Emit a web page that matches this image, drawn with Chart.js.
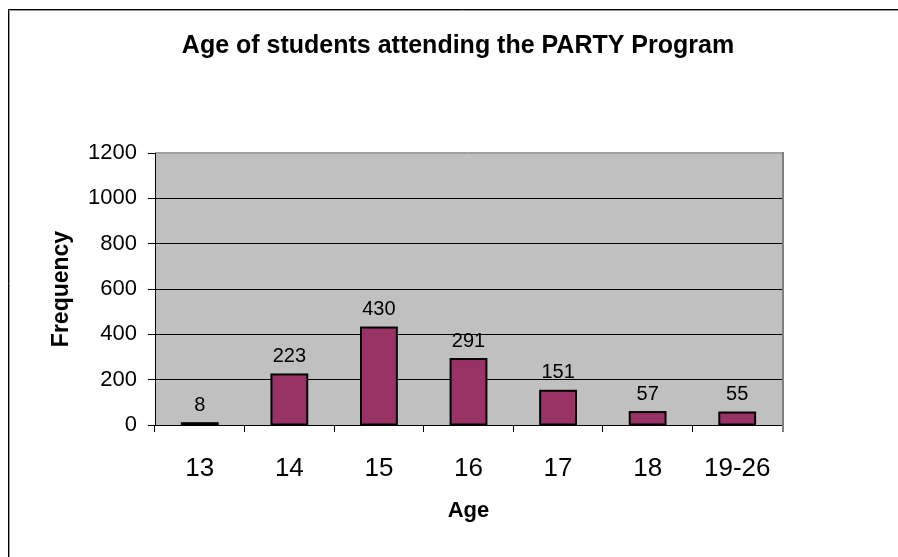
<!DOCTYPE html>
<html>
<head>
<meta charset="utf-8">
<script src="https://cdn.jsdelivr.net/npm/chart.js@4/dist/chart.umd.min.js"></script>
<style>
  html, body { margin: 0; padding: 0; background: #fff; overflow: hidden; }
  #wrap { position: absolute; left: 0; top: 0; width: 898px; height: 557px; overflow: hidden; }
  #c { position: absolute; left: 0; top: 0; }
</style>
</head>
<body>
<div id="wrap"><canvas id="c" width="916" height="557"></canvas></div>
<script>
const titleText = 'Age of students attending the PARTY Program';
const xTitle = 'Age';
const yTitle = 'Frequency';
const categories = ['13', '14', '15', '16', '17', '18', '19-26'];
const frequency = [8, 223, 430, 291, 151, 57, 55];
const yTicks = [0, 200, 400, 600, 800, 1000, 1200];

const FONT = '"Liberation Sans", Arial, sans-serif';

const plotBg = {
  id: 'plotBg',
  beforeDraw(chart) {
    const {ctx, chartArea: a, width, height} = chart;
    ctx.save();
    ctx.strokeStyle = '#999';
    ctx.lineWidth = 1;
    ctx.beginPath();
    ctx.moveTo(9.5, height);
    ctx.lineTo(9.5, 10.5);
    ctx.lineTo(width, 10.5);
    ctx.stroke();
    ctx.strokeStyle = '#000';
    ctx.beginPath();
    ctx.moveTo(8.5, height);
    ctx.lineTo(8.5, 9.5);
    ctx.lineTo(width, 9.5);
    ctx.stroke();
    ctx.fillStyle = '#C0C0C0';
    ctx.fillRect(a.left, a.top, a.right - a.left, a.bottom - a.top);
    ctx.restore();
  },
  afterDraw(chart) {
    const {ctx, chartArea: a} = chart;
    ctx.save();
    ctx.strokeStyle = '#808080';
    ctx.lineWidth = 2;
    ctx.beginPath();
    ctx.moveTo(a.right + 1, a.top - 1);
    ctx.lineTo(a.right + 1, a.bottom + 7);
    ctx.stroke();
    ctx.strokeStyle = '#a0a0a0';
    ctx.lineWidth = 1;
    ctx.beginPath();
    ctx.moveTo(a.left, a.top - 0.5);
    ctx.lineTo(a.right, a.top - 0.5);
    ctx.stroke();
    ctx.restore();
  }
};

const barLabels = {
  id: 'barLabels',
  afterDatasetsDraw(chart) {
    const {ctx} = chart;
    const meta = chart.getDatasetMeta(0);
    ctx.save();
    // bar outlines, centred on the bar edges
    ctx.strokeStyle = '#000';
    ctx.lineWidth = 2;
    meta.data.forEach(bar => {
      const w = bar.width;
      ctx.strokeRect(bar.x - w / 2, bar.y, w, bar.base - bar.y);
    });
    ctx.font = '20px ' + FONT;
    ctx.fillStyle = '#000';
    ctx.textAlign = 'center';
    ctx.textBaseline = 'alphabetic';
    meta.data.forEach((bar, i) => {
      ctx.fillText(String(frequency[i]), bar.x, bar.y - 12.5);
    });
    ctx.restore();
  }
};

new Chart(document.getElementById('c'), {
  type: 'bar',
  data: {
    labels: categories,
    datasets: [{
      data: frequency,
      backgroundColor: '#993366',
      borderWidth: 0,
      barPercentage: 0.40,
      categoryPercentage: 1.0
    }]
  },
  options: {
    responsive: false,
    animation: false,
    devicePixelRatio: 1,
    layout: { padding: 0 },
    plugins: {
      legend: { display: false },
      tooltip: { enabled: false },
      title: {
        display: true,
        text: titleText,
        color: '#000',
        font: { family: FONT, size: 25, weight: 'bold', lineHeight: 1.2 },
        padding: { top: 31.3, bottom: 91.7 }
      }
    },
    scales: {
      x: {
        offset: true,
        grid: { display: true, drawOnChartArea: false, drawTicks: true, tickLength: 7, color: '#000', offset: true },
        border: { display: true, color: '#000', width: 1 },
        ticks: { color: '#000', font: { family: FONT, size: 26 }, padding: 21, maxRotation: 0, autoSkip: false },
        title: { display: true, text: xTitle, color: '#000', font: { family: FONT, size: 22, weight: 'bold', lineHeight: 1.2 }, padding: { top: 0, bottom: 33 } },
        afterFit(s) { s.height = 132; }
      },
      y: {
        min: 0, max: 1200,
        afterBuildTicks(s) { s.ticks = yTicks.map(v => ({ value: v })); },
        grid: {
          color: c => (c.tick && c.tick.value === 1200) ? '#a0a0a0' : '#000',
          tickColor: '#000',
          tickLength: 7,
          lineWidth: 1
        },
        border: { display: true, color: '#000', width: 1 },
        ticks: { color: '#000', font: { family: FONT, size: 22 }, padding: 11, callback: v => String(v) },
        title: { display: true, text: yTitle, color: '#000', font: { family: FONT, size: 23, weight: 'bold', lineHeight: 1.2 }, padding: { top: 48, bottom: 0 } },
        afterFit(s) { s.width = 155; }
      },
      y2: {
        position: 'right',
        display: true,
        grid: { display: false, drawTicks: false },
        border: { display: false },
        ticks: { display: false },
        afterFit(s) { s.width = 134; }
      }
    }
  },
  plugins: [plotBg, barLabels]
});
</script>
</body>
</html>
